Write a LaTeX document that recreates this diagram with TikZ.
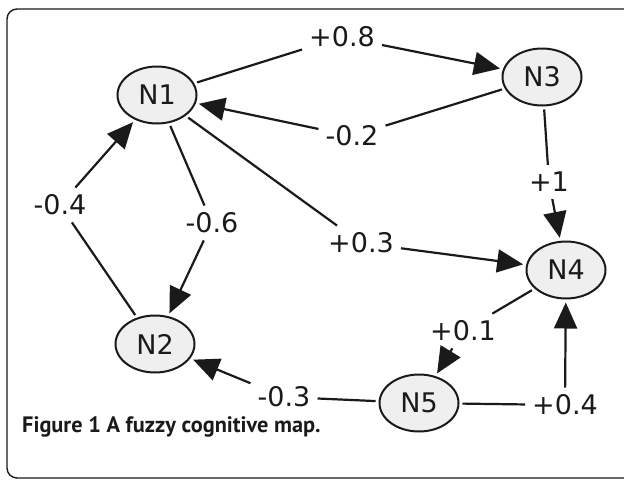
\documentclass[tikz,border=0pt]{standalone}
\usepackage{fontspec}
\setmainfont{DejaVu Sans}
\newfontfamily\capfont{PT Sans}
\usetikzlibrary{shapes.geometric,arrows.meta}
\definecolor{ink}{HTML}{1A1A1A}
\definecolor{nodefill}{HTML}{EFEFEF}
\begin{document}
\begin{tikzpicture}[x=1pt,y=-1pt,
  concept/.style={ellipse, draw=ink, line width=2pt, fill=nodefill,
    minimum width=79pt, minimum height=57pt, inner sep=0pt, outer sep=4pt,
    text=ink, font=\fontsize{27}{27}\selectfont},
  weight/.style={inner sep=7pt, text=ink, font=\fontsize{27}{27}\selectfont},
  link/.style={draw=ink, line width=2.2pt},
  arc/.style={link, -{Triangle[length=26pt,width=23pt]}}]
\useasboundingbox (0,0) rectangle (624,480);
% frame of the figure panel
\draw[ink, line width=1.4pt, rounded corners=10pt] (7,9) rectangle (640,478);

% concepts
\node[concept] (n1) at (157,95)  {N1};
\node[concept] (n2) at (155,344) {N2};
\node[concept] (n3) at (542,77)  {N3};
\node[concept] (n4) at (566,270) {N4};
\node[concept] (n5) at (419,403) {N5};

% weights
\node[weight] (w08)  at (342,37)  {+0.8};
\node[weight] (w02)  at (352,136) {-0.2};
\node[weight] (w1)   at (549,182) {+1};
\node[weight] (w03)  at (361,243) {+0.3};
\node[weight] (w04)  at (60,205)  {-0.4};
\node[weight] (w06)  at (212,223) {-0.6};
\node[weight] (w01)  at (463,331) {+0.1};
\node[weight] (w03b) at (284,397) {-0.3};
\node[weight] (w04b) at (565,405) {+0.4};

% causal links
\draw[link] (n1) -- (w08);   \draw[arc] (w08) -- (n3);
\draw[link] (n3) -- (w02);   \draw[arc] (w02) -- (n1);
\draw[link] (n3) -- (w1);    \draw[arc] (w1) -- (n4);
\draw[link] (n1) -- (w03);   \draw[arc] (w03) -- (n4);
\draw[link] (n2) -- (w04);   \draw[arc] (w04) -- (n1);
\draw[link] (n1) -- (w06);   \draw[arc] (w06) -- (n2);
\draw[link] (n4) -- (w01);   \draw[arc] (w01) -- (n5);
\draw[link] (n5) -- (w03b);  \draw[arc] (w03b) -- (n2);
\draw[link] (n5) -- (w04b);  \draw[arc] (w04b) -- (n4);

% caption
\node[anchor=base west, inner sep=0pt, text=ink,
  font=\capfont\bfseries\fontsize{22.3}{23}\selectfont] (caption) at (22,432)
  {Figure 1 A fuzzy cognitive map.};
\end{tikzpicture}
\end{document}
